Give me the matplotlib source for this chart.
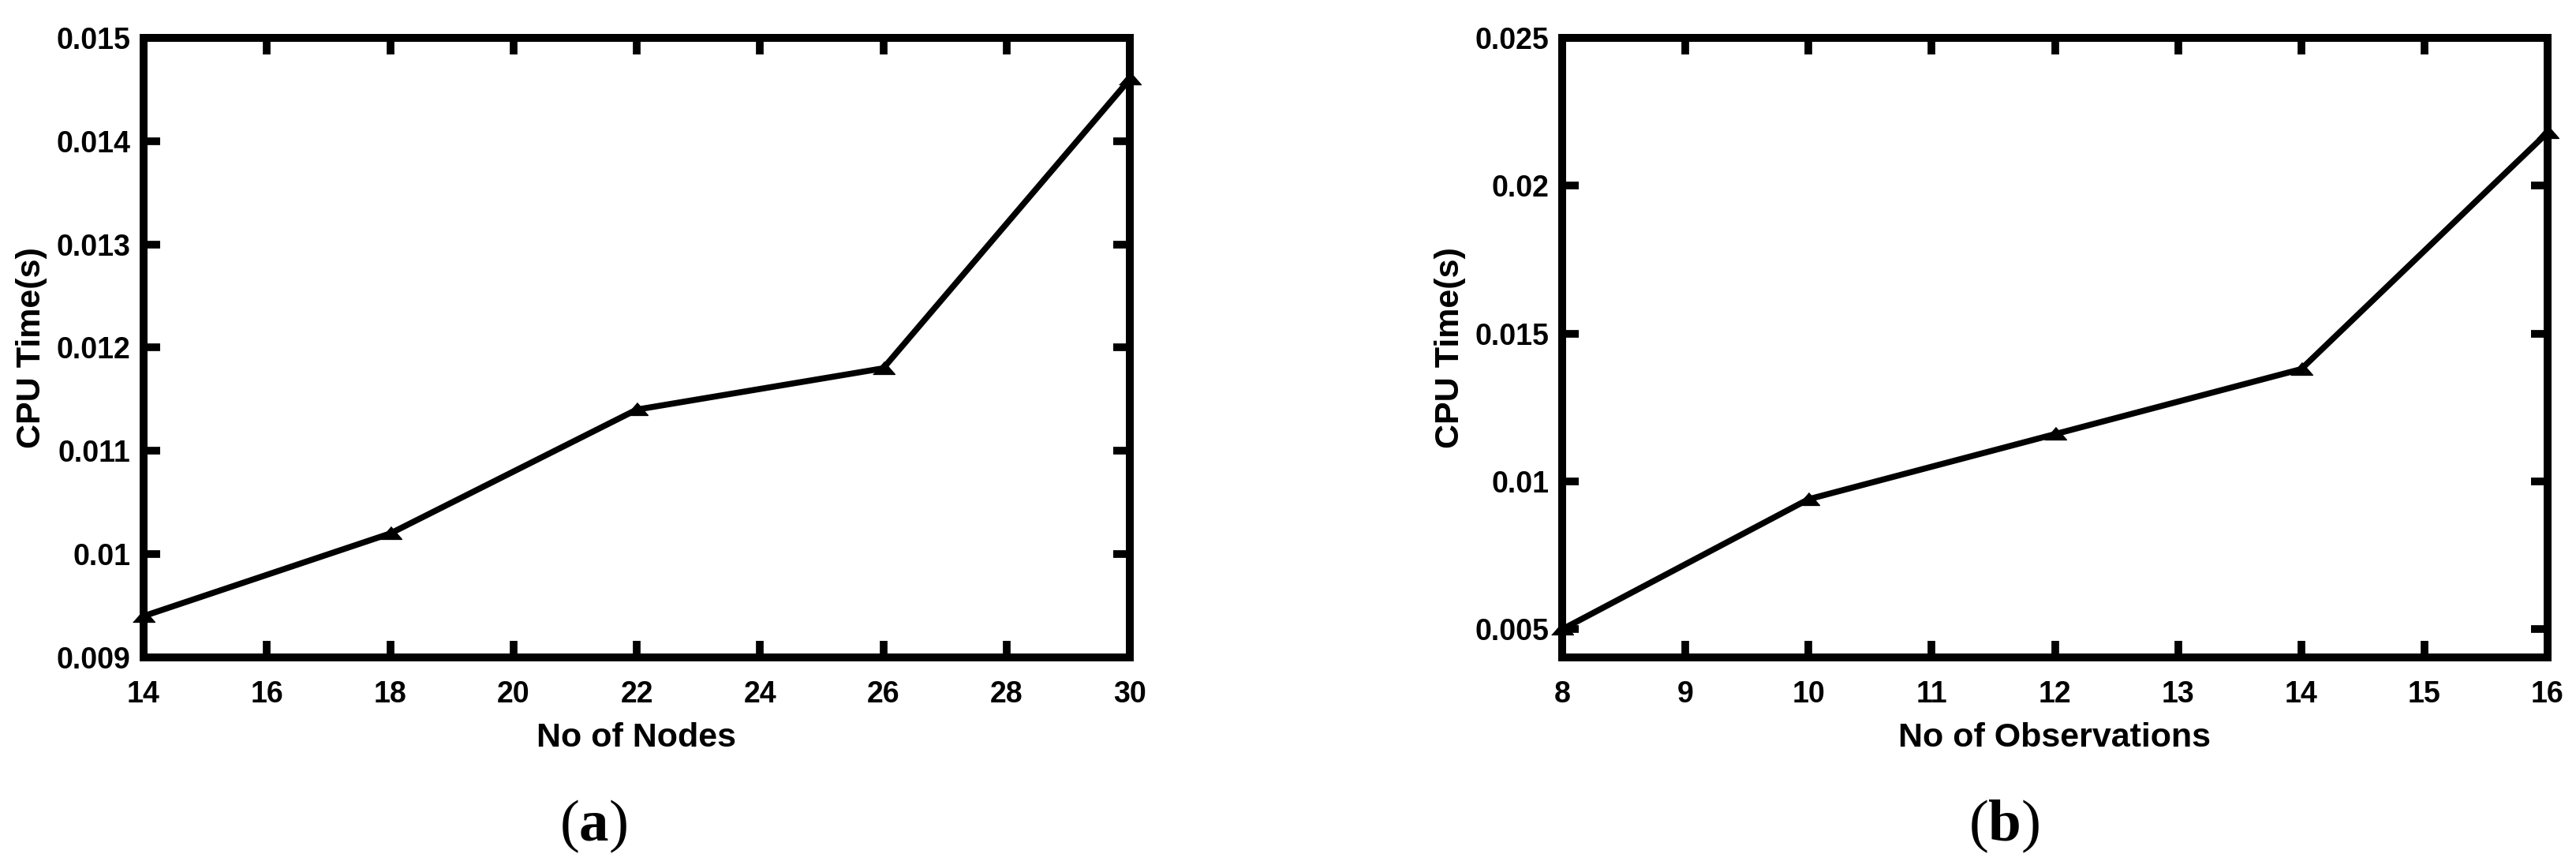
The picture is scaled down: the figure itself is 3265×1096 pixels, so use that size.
import matplotlib
matplotlib.use('Agg')
import matplotlib.pyplot as plt

# ---- data ----
nodes = [14, 18, 22, 26, 30]
cpu_nodes = [0.0094, 0.0102, 0.0114, 0.0118, 0.0146]
obs = [8, 10, 12, 14, 16]
cpu_obs = [0.0050, 0.0094, 0.0116, 0.0138, 0.0218]

left_xticks = [14, 16, 18, 20, 22, 24, 26, 28, 30]
left_yticks = [0.009, 0.010, 0.011, 0.012, 0.013, 0.014, 0.015]
left_ytick_labels = ['0.009', '0.01', '0.011', '0.012', '0.013', '0.014', '0.015']
right_xticks = [8, 9, 10, 11, 12, 13, 14, 15, 16]
right_yticks = [0.005, 0.010, 0.015, 0.020, 0.025]
right_ytick_labels = ['0.005', '0.01', '0.015', '0.02', '0.025']

x_labels = ['No of Nodes', 'No of Observations']
y_label = 'CPU Time(s)'
panel_labels = ['a', 'b']

plt.rcParams['font.family'] = ['Liberation Sans', 'DejaVu Sans']
plt.rcParams['mathtext.fontset'] = 'custom'
plt.rcParams['mathtext.rm'] = 'Liberation Serif'
plt.rcParams['mathtext.bf'] = 'Liberation Serif:bold'

W, H = 3265, 1096
fig = plt.figure(figsize=(W / 100, H / 100), dpi=100)

tri = [(-1, -0.5), (1, -0.5), (0, 0.65)]


def make_axes(x0px, x1px, xs, ys, xticks, yticks, ylabels, xlim, ylim, xlabel):
    y0px, y1px = 48, 833
    ax = fig.add_axes([x0px / W, 1 - y1px / H, (x1px - x0px) / W, (y1px - y0px) / H])
    ax.plot(xs, ys, color='black', linewidth=5.5, marker=tri, markersize=20,
            markerfacecolor='black', markeredgecolor='black', clip_on=False, zorder=3)
    ax.set_xlim(*xlim)
    ax.set_ylim(*ylim)
    ax.set_xticks(xticks)
    ax.set_xticklabels([str(t) for t in xticks])
    ax.set_yticks(yticks)
    ax.set_yticklabels(ylabels)
    for s in ax.spines.values():
        s.set_linewidth(7.2)
        s.set_color('black')
    ax.tick_params(axis='both', direction='in', length=15, width=7, top=True, right=True,
                   labelsize=27, colors='black')
    ax.tick_params(axis='x', pad=21)
    ax.tick_params(axis='y', pad=12)
    for lab in ax.get_xticklabels() + ax.get_yticklabels():
        lab.set_fontweight('bold')
    ax.set_xlabel(xlabel, fontsize=31, fontweight='bold')
    ax.set_ylabel(y_label, fontsize=31, fontweight='bold')
    ax.xaxis.set_label_coords(0.5, -0.1045)
    ax.yaxis.set_label_coords(-0.0976, 0.5)
    return ax


make_axes(182, 1432, nodes, cpu_nodes, left_xticks, left_yticks, left_ytick_labels,
          (14, 30), (0.009, 0.015), x_labels[0])
make_axes(1980, 3229, obs, cpu_obs, right_xticks, right_yticks, right_ytick_labels,
          (8, 16), (0.00405, 0.025), x_labels[1])

for lab, xc in zip(panel_labels, [752, 2540]):
    fig.text(xc / W, 1 - 1065 / H, r'($\mathbf{' + lab + r'}$)', fontsize=54,
             family='Liberation Serif', ha='center', va='baseline')

fig.savefig('out.png', dpi=100, facecolor='white')
